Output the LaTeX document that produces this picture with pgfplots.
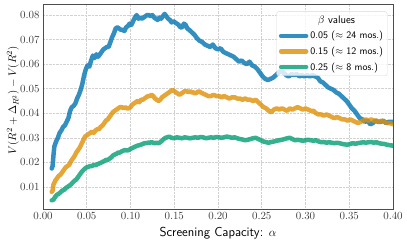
\documentclass[border=0pt]{standalone}
\usepackage{pgfplots}
\pgfplotsset{compat=1.18}
\definecolor{cbblue}{HTML}{0173B2}
\definecolor{cborange}{HTML}{DE8F05}
\definecolor{cbgreen}{HTML}{029E73}
\definecolor{framegray}{HTML}{4D4D4D}
\begin{document}
\begin{tikzpicture}
\begin{axis}[
  name=ax,
  scale only axis,
  width=350bp, height=205bp,
  xmin=0, xmax=0.40, ymin=0.001, ymax=0.0845,
  xtick={0,0.05,...,0.40},
  ytick={0.01,0.02,...,0.08},
  scaled ticks=false,
  xticklabel style={/pgf/number format/.cd,fixed,fixed zerofill,precision=2},
  yticklabel style={/pgf/number format/.cd,fixed,fixed zerofill,precision=2},
  tick label style={font=\fontsize{10.5}{12}\selectfont, text=framegray!80!black},
  major tick length=0pt,
  axis line style={framegray, line width=0.8bp},
  grid=major,
  major grid style={gray!35, densely dotted, line width=0.6bp},
  every axis x label/.style={at={(rel axis cs:0.5,0)}, yshift=-24bp, anchor=center},
  every axis y label/.style={at={(rel axis cs:0,0.53)}, xshift=-30bp, rotate=90, anchor=center},
  x label style={font=\fontsize{13}{15}\selectfont},
  y label style={font=\fontsize{11.2}{13}\selectfont},
  xlabel={\sffamily Screening Capacity: $\alpha$},
  ylabel={$V(R^2+\Delta_{R^2})-V(R^2)$},
  legend style={at={(rel axis cs:0.984,0.964)}, anchor=north east,
    draw=gray!30, rounded corners=2bp, fill=white, fill opacity=0.8, text opacity=1,
    font=\sffamily\fontsize{10}{11}\selectfont, row sep=2.6bp, inner sep=2.2bp},
  legend cell align=left,
  legend image code/.code={\draw[#1] (0bp,0bp) -- (25bp,0bp);},
  every axis plot/.append style={line width=4.5bp, line join=round, line cap=round, opacity=0.8},
]
\addlegendimage{empty legend}
\addlegendentry{\hspace{-14bp}\makebox[80bp][c]{\fontsize{11}{12}\selectfont$\beta$ values}}

\addplot[cbblue] coordinates {
(0.010,0.0175)(0.011,0.0185)(0.012,0.0230)(0.013,0.0265)(0.015,0.0285)(0.017,0.0300)(0.019,0.0320)(0.021,0.0330)(0.023,0.0345)(0.025,0.0350)(0.027,0.0365)(0.029,0.0380)(0.031,0.0410)(0.033,0.0425)(0.035,0.0430)(0.037,0.0440)(0.039,0.0460)(0.041,0.0475)(0.043,0.0495)(0.045,0.0520)(0.047,0.0555)(0.049,0.0580)(0.051,0.0595)(0.053,0.0590)(0.055,0.0615)(0.057,0.0635)(0.059,0.0625)(0.061,0.0640)(0.063,0.0630)(0.065,0.0640)(0.067,0.0650)(0.069,0.0660)(0.071,0.0665)(0.073,0.0670)(0.075,0.0670)(0.077,0.0690)(0.079,0.0710)(0.081,0.0725)(0.083,0.0745)(0.085,0.0750)(0.087,0.0745)(0.089,0.0740)(0.091,0.0740)(0.093,0.0735)(0.095,0.0750)(0.097,0.0755)(0.099,0.0765)(0.101,0.0760)(0.103,0.0775)(0.105,0.0790)(0.107,0.0800)(0.109,0.0785)(0.111,0.0790)(0.113,0.0785)(0.115,0.0790)(0.117,0.0795)(0.119,0.0800)(0.121,0.0800)(0.123,0.0795)(0.125,0.0800)(0.127,0.0790)(0.129,0.0785)(0.131,0.0780)(0.133,0.0790)(0.135,0.0785)(0.137,0.0795)(0.139,0.0805)(0.141,0.0795)(0.143,0.0785)(0.145,0.0780)(0.147,0.0770)(0.149,0.0775)(0.151,0.0770)(0.153,0.0765)(0.155,0.0760)(0.157,0.0750)(0.159,0.0750)(0.161,0.0765)(0.163,0.0760)(0.165,0.0745)(0.167,0.0740)(0.170,0.0730)(0.173,0.0720)(0.176,0.0705)(0.179,0.0695)(0.182,0.0690)(0.185,0.0680)(0.188,0.0675)(0.191,0.0670)(0.194,0.0680)(0.197,0.0665)(0.200,0.0660)(0.203,0.0665)(0.206,0.0650)(0.209,0.0645)(0.212,0.0640)(0.215,0.0635)(0.218,0.0630)(0.221,0.0620)(0.224,0.0610)(0.227,0.0615)(0.230,0.0605)(0.233,0.0600)(0.236,0.0610)(0.239,0.0595)(0.242,0.0590)(0.245,0.0580)(0.248,0.0565)(0.251,0.0550)(0.254,0.0540)(0.257,0.0535)(0.260,0.0540)(0.263,0.0545)(0.266,0.0555)(0.269,0.0565)(0.272,0.0575)(0.275,0.0565)(0.278,0.0555)(0.281,0.0550)(0.284,0.0560)(0.287,0.0555)(0.290,0.0560)(0.293,0.0550)(0.296,0.0555)(0.299,0.0550)(0.302,0.0555)(0.305,0.0550)(0.308,0.0555)(0.311,0.0550)(0.314,0.0545)(0.317,0.0530)(0.320,0.0525)(0.323,0.0515)(0.326,0.0505)(0.329,0.0500)(0.332,0.0495)(0.335,0.0485)(0.338,0.0480)(0.341,0.0470)(0.344,0.0460)(0.347,0.0450)(0.350,0.0435)(0.353,0.0420)(0.356,0.0410)(0.359,0.0395)(0.362,0.0380)(0.365,0.0375)(0.368,0.0365)(0.371,0.0370)(0.374,0.0355)(0.377,0.0360)(0.380,0.0370)(0.383,0.0365)(0.386,0.0365)(0.389,0.0370)(0.392,0.0360)(0.395,0.0365)(0.398,0.0365)(0.400,0.0365)
};
\addlegendentry{0.05 ($\approx$ 24 mos.)}

\addplot[cborange] coordinates {
(0.010,0.0080)(0.011,0.0085)(0.012,0.0110)(0.014,0.0125)(0.016,0.0135)(0.018,0.0145)(0.020,0.0150)(0.022,0.0160)(0.024,0.0170)(0.026,0.0180)(0.028,0.0185)(0.030,0.0190)(0.032,0.0205)(0.034,0.0215)(0.036,0.0225)(0.038,0.0240)(0.040,0.0250)(0.042,0.0260)(0.044,0.0275)(0.046,0.0290)(0.048,0.0305)(0.050,0.0310)(0.052,0.0315)(0.054,0.0320)(0.056,0.0325)(0.058,0.0320)(0.060,0.0330)(0.062,0.0335)(0.064,0.0335)(0.066,0.0345)(0.068,0.0350)(0.070,0.0360)(0.072,0.0370)(0.074,0.0375)(0.076,0.0385)(0.078,0.0395)(0.080,0.0405)(0.082,0.0410)(0.084,0.0415)(0.086,0.0420)(0.088,0.0425)(0.090,0.0425)(0.092,0.0420)(0.094,0.0425)(0.096,0.0420)(0.098,0.0420)(0.100,0.0425)(0.102,0.0435)(0.104,0.0440)(0.106,0.0445)(0.108,0.0450)(0.110,0.0445)(0.112,0.0455)(0.114,0.0455)(0.116,0.0460)(0.118,0.0465)(0.120,0.0470)(0.122,0.0470)(0.124,0.0475)(0.126,0.0470)(0.128,0.0460)(0.130,0.0455)(0.132,0.0450)(0.134,0.0455)(0.136,0.0465)(0.138,0.0470)(0.140,0.0475)(0.142,0.0480)(0.144,0.0485)(0.146,0.0490)(0.148,0.0495)(0.150,0.0490)(0.152,0.0485)(0.154,0.0480)(0.156,0.0475)(0.158,0.0480)(0.160,0.0485)(0.162,0.0490)(0.164,0.0490)(0.166,0.0485)(0.168,0.0490)(0.170,0.0485)(0.172,0.0485)(0.174,0.0480)(0.176,0.0485)(0.178,0.0490)(0.180,0.0485)(0.183,0.0480)(0.186,0.0475)(0.189,0.0470)(0.192,0.0470)(0.195,0.0475)(0.198,0.0470)(0.201,0.0470)(0.204,0.0465)(0.207,0.0470)(0.210,0.0465)(0.213,0.0460)(0.216,0.0465)(0.219,0.0465)(0.222,0.0460)(0.225,0.0460)(0.228,0.0455)(0.231,0.0460)(0.234,0.0455)(0.237,0.0455)(0.240,0.0450)(0.243,0.0455)(0.246,0.0445)(0.249,0.0435)(0.252,0.0425)(0.255,0.0420)(0.258,0.0410)(0.261,0.0405)(0.264,0.0415)(0.267,0.0420)(0.270,0.0415)(0.273,0.0420)(0.276,0.0415)(0.279,0.0410)(0.282,0.0420)(0.285,0.0415)(0.288,0.0420)(0.291,0.0425)(0.294,0.0420)(0.297,0.0415)(0.300,0.0420)(0.303,0.0415)(0.306,0.0410)(0.309,0.0410)(0.312,0.0400)(0.315,0.0395)(0.318,0.0395)(0.321,0.0390)(0.324,0.0395)(0.327,0.0390)(0.330,0.0385)(0.333,0.0380)(0.336,0.0385)(0.339,0.0380)(0.342,0.0375)(0.345,0.0375)(0.348,0.0370)(0.351,0.0375)(0.354,0.0370)(0.357,0.0365)(0.360,0.0360)(0.363,0.0365)(0.366,0.0370)(0.369,0.0375)(0.372,0.0370)(0.375,0.0375)(0.378,0.0370)(0.381,0.0370)(0.384,0.0365)(0.387,0.0370)(0.390,0.0365)(0.393,0.0360)(0.396,0.0360)(0.400,0.0355)
};
\addlegendentry{0.15 ($\approx$ 12 mos.)}

\addplot[cbgreen] coordinates {
(0.010,0.0045)(0.012,0.0048)(0.014,0.0060)(0.016,0.0068)(0.018,0.0072)(0.020,0.0078)(0.022,0.0085)(0.024,0.0088)(0.026,0.0095)(0.028,0.0100)(0.030,0.0105)(0.032,0.0110)(0.034,0.0118)(0.036,0.0125)(0.038,0.0130)(0.040,0.0140)(0.042,0.0150)(0.044,0.0160)(0.046,0.0168)(0.048,0.0175)(0.050,0.0180)(0.052,0.0182)(0.054,0.0185)(0.056,0.0185)(0.058,0.0190)(0.060,0.0188)(0.062,0.0192)(0.064,0.0195)(0.066,0.0198)(0.068,0.0202)(0.070,0.0205)(0.072,0.0210)(0.074,0.0210)(0.076,0.0215)(0.078,0.0220)(0.080,0.0228)(0.082,0.0232)(0.084,0.0235)(0.086,0.0240)(0.088,0.0240)(0.090,0.0245)(0.092,0.0248)(0.094,0.0250)(0.096,0.0248)(0.098,0.0250)(0.100,0.0255)(0.102,0.0258)(0.104,0.0262)(0.106,0.0265)(0.108,0.0268)(0.110,0.0270)(0.112,0.0272)(0.114,0.0275)(0.116,0.0278)(0.118,0.0278)(0.120,0.0280)(0.122,0.0280)(0.124,0.0282)(0.126,0.0280)(0.128,0.0278)(0.130,0.0280)(0.132,0.0278)(0.134,0.0282)(0.136,0.0288)(0.138,0.0295)(0.140,0.0300)(0.142,0.0302)(0.144,0.0305)(0.147,0.0300)(0.150,0.0298)(0.153,0.0302)(0.156,0.0300)(0.159,0.0298)(0.162,0.0302)(0.165,0.0300)(0.168,0.0298)(0.171,0.0300)(0.174,0.0302)(0.177,0.0300)(0.180,0.0303)(0.183,0.0302)(0.186,0.0298)(0.189,0.0300)(0.192,0.0302)(0.195,0.0300)(0.198,0.0303)(0.201,0.0302)(0.204,0.0300)(0.207,0.0302)(0.210,0.0305)(0.213,0.0303)(0.216,0.0300)(0.219,0.0302)(0.222,0.0298)(0.225,0.0295)(0.228,0.0293)(0.231,0.0290)(0.234,0.0292)(0.237,0.0295)(0.240,0.0298)(0.243,0.0300)(0.246,0.0295)(0.249,0.0290)(0.252,0.0285)(0.255,0.0282)(0.258,0.0280)(0.261,0.0283)(0.264,0.0285)(0.267,0.0288)(0.270,0.0290)(0.273,0.0292)(0.276,0.0295)(0.279,0.0298)(0.282,0.0300)(0.285,0.0295)(0.288,0.0290)(0.291,0.0292)(0.294,0.0290)(0.297,0.0288)(0.300,0.0290)(0.303,0.0292)(0.306,0.0290)(0.309,0.0288)(0.312,0.0290)(0.315,0.0285)(0.318,0.0282)(0.321,0.0283)(0.324,0.0280)(0.327,0.0282)(0.330,0.0280)(0.333,0.0278)(0.336,0.0280)(0.339,0.0278)(0.342,0.0275)(0.345,0.0273)(0.348,0.0272)(0.351,0.0275)(0.354,0.0278)(0.357,0.0276)(0.360,0.0278)(0.363,0.0280)(0.366,0.0282)(0.369,0.0280)(0.372,0.0282)(0.375,0.0283)(0.378,0.0280)(0.381,0.0282)(0.384,0.0278)(0.387,0.0276)(0.390,0.0275)(0.393,0.0272)(0.396,0.0270)(0.400,0.0268)
};
\addlegendentry{0.25 ($\approx$ 8 mos.)}
\end{axis}
\pgfresetboundingbox
\path[use as bounding box] ([xshift=-43bp,yshift=-34bp]ax.south west) rectangle ([xshift=14bp,yshift=4bp]ax.north east);
\end{tikzpicture}
\end{document}
